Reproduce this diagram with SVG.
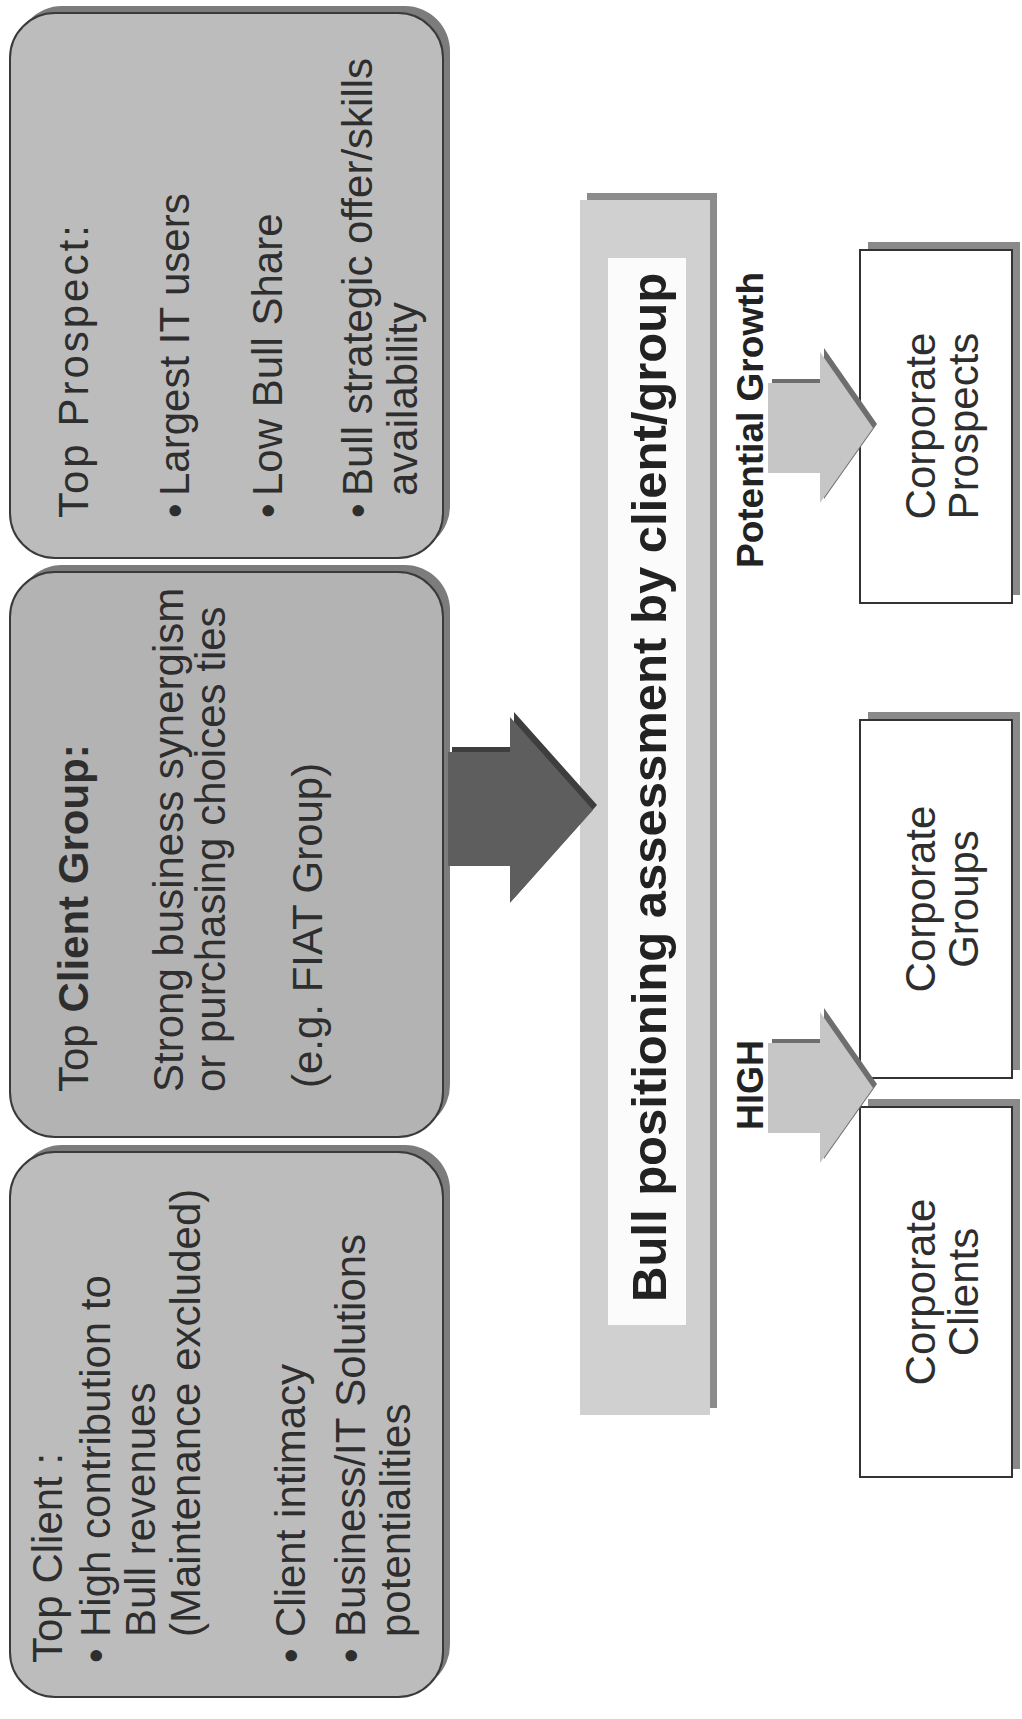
<svg xmlns="http://www.w3.org/2000/svg" width="1022" height="1719" viewBox="0 0 1022 1719">
<defs>
<style>
.t{font-family:"Liberation Sans",Arial,sans-serif;font-size:42px;fill:#2e2e2e}
.b{font-family:"Liberation Sans",Arial,sans-serif;font-weight:bold;fill:#222}
.box{fill:#bcbcbc;stroke:#3a3a3a;stroke-width:2}
.sh{fill:#7c7c7c}
.corp{fill:#ffffff;stroke:#333;stroke-width:2}
.csh{fill:#8a8a8a}
.arr{fill:#c6c6c6}
.arrsh{fill:#6e6e6e}
</style>
</defs>
<rect width="1022" height="1719" fill="#ffffff"/>

<g id="top-prospect">
<rect class="sh" x="17" y="6" width="433" height="545" rx="45"/>
<rect class="box" x="10" y="13" width="433" height="545" rx="45"/>
<g transform="translate(10,558) rotate(-90)">
<text class="t" x="40" y="78" style="letter-spacing:3px">Top Prospect:</text>
<text class="t" x="40" y="179">•</text><text class="t" x="62" y="179">Largest IT users</text>
<text class="t" x="40" y="272">•</text><text class="t" x="62" y="272">Low Bull Share</text>
<text class="t" x="40" y="362">•</text><text class="t" x="62" y="362">Bull strategic offer/skills</text>
<text class="t" x="62" y="407">availability</text>
</g>
</g>

<g id="top-client-group">
<rect class="sh" x="17" y="565" width="433" height="565" rx="45"/>
<rect class="box" x="10" y="572" width="433" height="565" rx="45" style="fill:#b3b3b3"/>
<g transform="translate(10,1137) rotate(-90)">
<text class="t" x="45" y="78">Top <tspan font-weight="bold">Client Group:</tspan></text>
<text class="t" x="45" y="173">Strong business synergism</text>
<text class="t" x="45" y="215">or purchasing choices ties</text>
<text class="t" x="49" y="312">(e.g. FIAT Group)</text>
</g>
</g>

<g id="top-client">
<rect class="sh" x="17" y="1145" width="433" height="545" rx="45"/>
<rect class="box" x="10" y="1152" width="433" height="545" rx="45"/>
<g transform="translate(10,1697) rotate(-90)">
<text class="t" x="34" y="52">Top Client :</text>
<text class="t" x="34" y="100">•</text><text class="t" x="60" y="100">High contribution to</text>
<text class="t" x="60" y="145">Bull revenues</text>
<text class="t" x="60" y="190">(Maintenance excluded)</text>
<text class="t" x="34" y="295">•</text><text class="t" x="60" y="295">Client intimacy</text>
<text class="t" x="34" y="355">•</text><text class="t" x="60" y="355">Business/IT Solutions</text>
<text class="t" x="60" y="400">potentialities</text>
</g>
</g>

<g id="bull-assessment">
<rect x="587" y="193" width="130" height="1215" fill="#8c8c8c"/>
<rect x="580" y="200" width="130" height="1215" fill="#d0d0d0"/>
<rect x="608" y="258" width="78" height="1067" fill="#fbfbfb"/>
<text class="b" font-size="49" transform="translate(666,1302) rotate(-90)">Bull positioning assessment by client/group</text>
</g>

<g id="corporate-prospects">
<rect class="csh" x="868" y="242" width="152" height="353"/>
<rect class="corp" x="860" y="250" width="152" height="353"/>
<text class="t" text-anchor="middle" transform="translate(935,426) rotate(-90)">Corporate</text>
<text class="t" text-anchor="middle" transform="translate(978,426) rotate(-90)">Prospects</text>
</g>

<g id="corporate-groups">
<rect class="csh" x="868" y="712" width="152" height="358"/>
<rect class="corp" x="860" y="720" width="152" height="358"/>
<text class="t" text-anchor="middle" transform="translate(935,899) rotate(-90)">Corporate</text>
<text class="t" text-anchor="middle" transform="translate(978,899) rotate(-90)">Groups</text>
</g>

<g id="corporate-clients">
<rect class="csh" x="868" y="1099" width="152" height="370"/>
<rect class="corp" x="860" y="1107" width="152" height="370"/>
<text class="t" text-anchor="middle" transform="translate(935,1292) rotate(-90)">Corporate</text>
<text class="t" text-anchor="middle" transform="translate(978,1292) rotate(-90)">Clients</text>
</g>

<g id="connectors">
<polygon points="452,747 514,747 514,712 597,805 514,898 514,861 452,861" fill="#3e3e3e"/>
<polygon points="448,752 510,752 510,717 593,810 510,903 510,866 448,866" fill="#5e5e5e"/>

<polygon class="arrsh" points="772,379 824,379 824,348 877,424 824,499 824,469 772,469"/>
<polygon class="arr" points="768,383 820,383 820,352 873,428 820,503 820,473 768,473"/>
<text class="b" font-size="37" transform="translate(763,568) rotate(-90)">Potential Growth</text>

<polygon class="arrsh" points="772,1039 824,1039 824,1008 877,1084 824,1159 824,1129 772,1129"/>
<polygon class="arr" points="768,1043 820,1043 820,1012 873,1088 820,1163 820,1133 768,1133"/>
<text class="b" font-size="36" transform="translate(763,1130) rotate(-90)">HIGH</text>
</g>
</svg>
